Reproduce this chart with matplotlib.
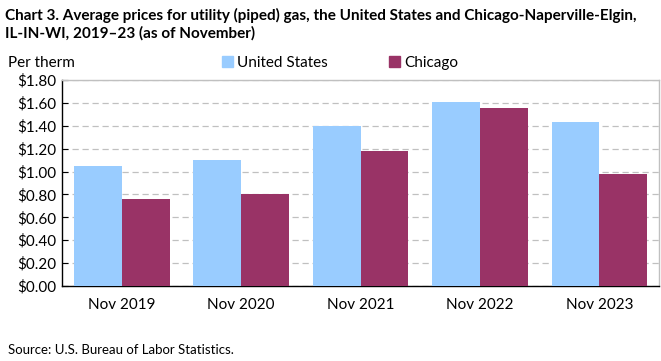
import matplotlib
matplotlib.use("Agg")
import matplotlib.pyplot as plt
import numpy as np
from matplotlib.patches import Rectangle

categories = ["Nov 2019", "Nov 2020", "Nov 2021", "Nov 2022", "Nov 2023"]
us_prices = [1.051, 1.104, 1.401, 1.612, 1.436]
chicago_prices = [0.762, 0.806, 1.182, 1.559, 0.981]
y_ticks = [0.0, 0.2, 0.4, 0.6, 0.8, 1.0, 1.2, 1.4, 1.6, 1.8]

plt.rcParams["font.family"] = ["Lato", "DejaVu Sans"]

fig = plt.figure(figsize=(6.61, 3.61), dpi=100)
ax = fig.add_axes([0.094, 0.208, 0.903, 0.570])

x = np.arange(len(categories))
w = 0.4
ax.bar(x - w / 2, us_prices, w, color="#99CCFF", zorder=3)
ax.bar(x + w / 2, chicago_prices, w, color="#993366", zorder=3)

ax.set_xlim(-0.5, len(categories) - 0.5)
ax.set_ylim(0, 1.8)
ax.set_yticks(y_ticks)
ax.set_yticklabels([f"${v:.2f}" for v in y_ticks], fontsize=11)
ax.set_xticks(x)
ax.set_xticklabels(categories, fontsize=11)
ax.tick_params(axis="x", length=0, pad=9)
ax.tick_params(axis="y", length=4, direction="in", pad=4)
ax.grid(axis="y", color="#c0c0c0", linestyle=(0, (5, 3)), linewidth=0.9, zorder=0)

for s in ["top", "right"]:
    ax.spines[s].set_color("#c0c0c0")
    ax.spines[s].set_linewidth(1)
for s in ["left", "bottom"]:
    ax.spines[s].set_color("black")
    ax.spines[s].set_linewidth(1)

fig.text(0.008, 0.978, "Chart 3. Average prices for utility (piped) gas, the United States and Chicago-Naperville-Elgin,\nIL-IN-WI, 2019\u201323 (as of November)",
         fontsize=11, fontweight="bold", va="top", ha="left", linespacing=1.3)
fig.text(0.012, 0.825, "Per therm", fontsize=11, va="center", ha="left")

# legend
handles = [Rectangle((0, 0), 1, 1, color="#99CCFF"), Rectangle((0, 0), 1, 1, color="#993366")]
fig.legend(handles, ["United States", "Chicago"], loc="center", bbox_to_anchor=(0.515, 0.825),
           ncol=2, frameon=False, fontsize=11, handlelength=0.7, handleheight=0.7,
           handletextpad=0.3, columnspacing=4.0)

fig.text(0.012, 0.03, "Source: U.S. Bureau of Labor Statistics.", fontsize=9.5, va="center", ha="left")

fig.savefig("out.png", dpi=100)
